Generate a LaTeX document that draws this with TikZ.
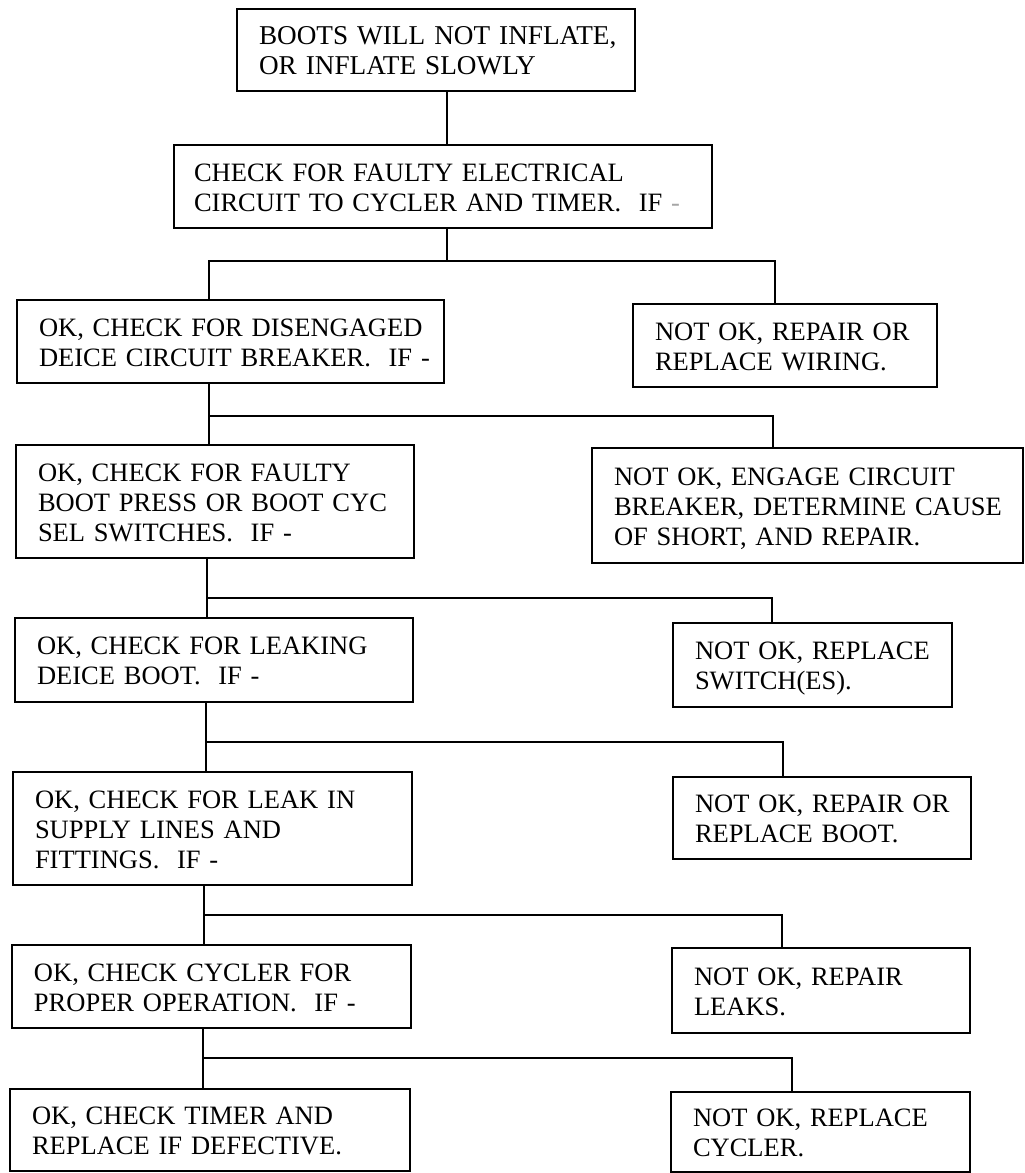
\documentclass[tikz,border=0pt]{standalone}
\usepackage{fontspec}
\setmainfont{Liberation Serif}
%righe di testo senza a capo automatico
\newcommand{\righe}[1]{\begin{tabular}{@{}l@{}}\rule{0pt}{28pt}#1\end{tabular}}
\begin{document}
\begin{tikzpicture}[x=1pt, y=-1pt,
    riquadro/.style={draw, line width=2.4pt, rectangle, anchor=north west, outer sep=0pt,
        align=left, inner xsep=22pt, inner ysep=0pt, font=\fontsize{26.5}{30}\selectfont},
    linea/.style={line width=2pt}]
    %area del disegno
    \useasboundingbox (0,0) rectangle (1025,1173);

    %riquadri in alto
    \node[riquadro, text width=354pt, minimum height=82pt, font=\fontsize{27.2}{30}\selectfont] (start) at (237,9)
        {\righe{BOOTS WILL NOT INFLATE,\\OR INFLATE SLOWLY}};
    \node[riquadro, inner xsep=20pt, text width=498pt, minimum height=83pt] (check) at (174,145)
        {\righe{CHECK FOR FAULTY ELECTRICAL\\CIRCUIT TO CYCLER AND TIMER.\ \ IF \textcolor{black!35}{-}}};

    %riquadri OK a sinistra
    \node[riquadro, text width=383pt, minimum height=83pt] (ok1) at (17,300)
        {\righe{OK, CHECK FOR DISENGAGED\\DEICE CIRCUIT BREAKER.\ \ IF -}};
    \node[riquadro, text width=354pt, minimum height=113pt] (ok2) at (16,445)
        {\righe{OK, CHECK FOR FAULTY\\BOOT PRESS OR BOOT CYC\\SEL SWITCHES.\ \ IF -}};
    \node[riquadro, text width=354pt, minimum height=84pt] (ok3) at (15,618)
        {\righe{OK, CHECK FOR LEAKING\\DEICE BOOT.\ \ IF -}};
    \node[riquadro, text width=355pt, minimum height=113pt] (ok4) at (13,772)
        {\righe{OK, CHECK FOR LEAK IN\\SUPPLY LINES AND\\FITTINGS.\ \ IF -}};
    \node[riquadro, text width=355pt, minimum height=83pt] (ok5) at (12,945)
        {\righe{OK, CHECK CYCLER FOR\\PROPER OPERATION.\ \ IF -}};
    \node[riquadro, text width=356pt, minimum height=82pt] (ok6) at (10,1089)
        {\righe{OK, CHECK TIMER AND\\REPLACE IF DEFECTIVE.}};

    %riquadri NOT OK a destra
    \node[riquadro, text width=260pt, minimum height=83pt] (nok1) at (633,304)
        {\righe{NOT OK, REPAIR OR\\REPLACE WIRING.}};
    \node[riquadro, text width=387pt, minimum height=115pt] (nok2) at (592,448)
        {\righe{NOT OK, ENGAGE CIRCUIT\\BREAKER, DETERMINE CAUSE\\OF SHORT, AND REPAIR.}};
    \node[riquadro, text width=235pt, minimum height=84pt] (nok3) at (673,623)
        {\righe{NOT OK, REPLACE\\SWITCH(ES).}};
    \node[riquadro, text width=254pt, minimum height=82pt] (nok4) at (673,777)
        {\righe{NOT OK, REPAIR OR\\REPLACE BOOT.}};
    \node[riquadro, text width=254pt, minimum height=85pt] (nok5) at (672,948)
        {\righe{NOT OK, REPAIR\\LEAKS.}};
    \node[riquadro, text width=255pt, minimum height=80pt] (nok6) at (671,1092)
        {\righe{NOT OK, REPLACE\\CYCLER.}};

    %punti di diramazione
    \coordinate (d0) at (447,120);
    \coordinate (s1) at (209,261); \coordinate (e1) at (775,261);
    \coordinate (s2) at (209,416); \coordinate (e2) at (773,416);
    \coordinate (s3) at (207,598); \coordinate (e3) at (772,598);
    \coordinate (s4) at (206,742); \coordinate (e4) at (783,742);
    \coordinate (s5) at (204,915); \coordinate (e5) at (782,915);
    \coordinate (s6) at (203,1058); \coordinate (e6) at (792,1058);

    %collegamenti
    \draw[linea] (start.south -| d0) -- (check.north -| d0);
    \draw[linea] (check.south -| d0) -- (d0 |- s1);
    \draw[linea] (ok1.north -| s1) -- (s1) -- (e1) -- (nok1.north -| e1);
    \draw[linea] (ok1.south -| s2) -- (ok2.north -| s2);
    \draw[linea] (s2) -- (e2) -- (nok2.north -| e2);
    \draw[linea] (ok2.south -| s3) -- (ok3.north -| s3);
    \draw[linea] (s3) -- (e3) -- (nok3.north -| e3);
    \draw[linea] (ok3.south -| s4) -- (ok4.north -| s4);
    \draw[linea] (s4) -- (e4) -- (nok4.north -| e4);
    \draw[linea] (ok4.south -| s5) -- (ok5.north -| s5);
    \draw[linea] (s5) -- (e5) -- (nok5.north -| e5);
    \draw[linea] (ok5.south -| s6) -- (ok6.north -| s6);
    \draw[linea] (s6) -- (e6) -- (nok6.north -| e6);
\end{tikzpicture}
\end{document}
